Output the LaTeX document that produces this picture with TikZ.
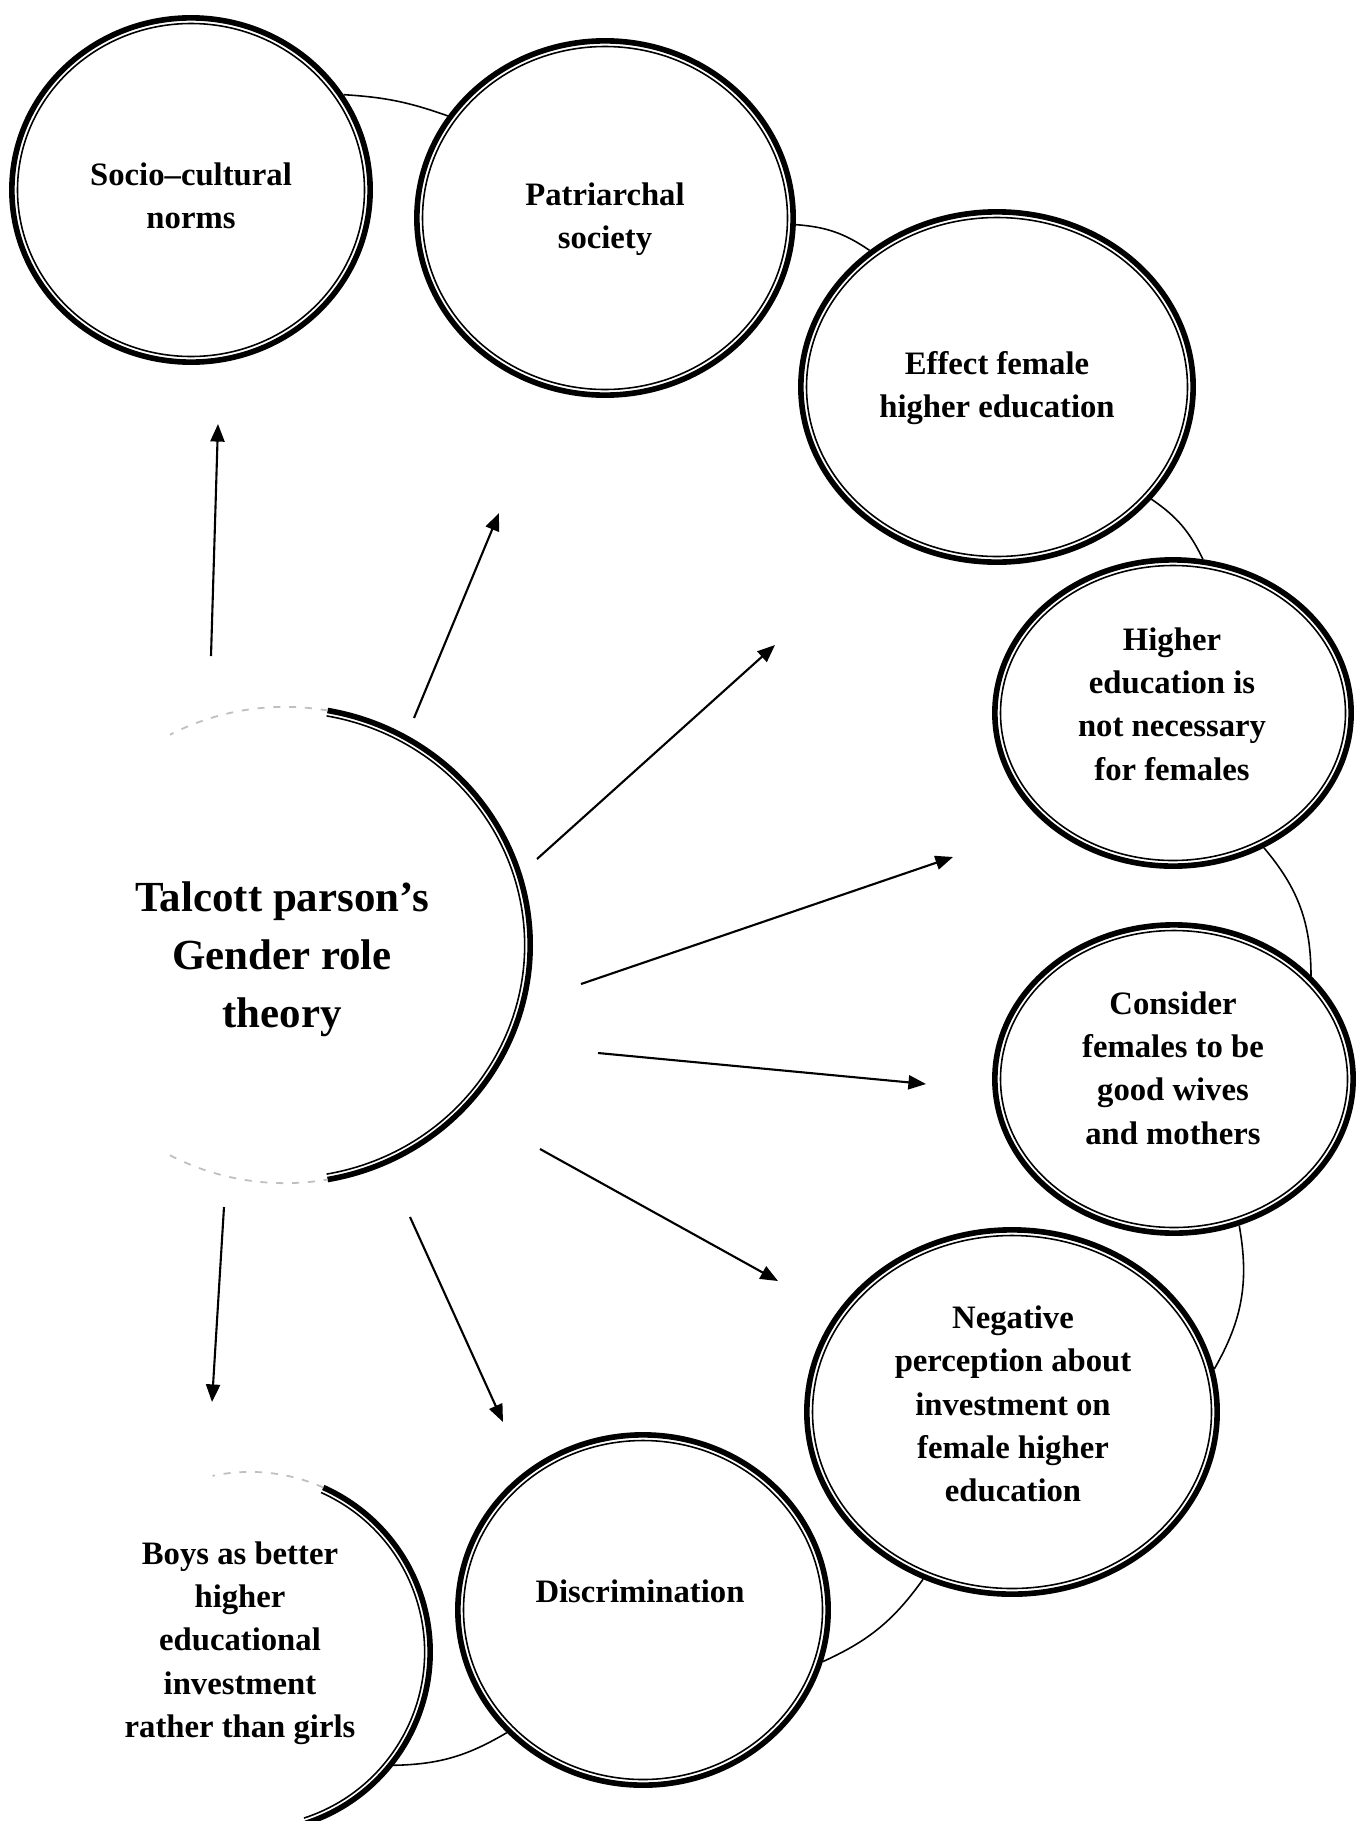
\documentclass[tikz,border=0pt]{standalone}
\usepackage{fontspec}
\setmainfont{Liberation Serif}
\usetikzlibrary{shapes.geometric,arrows.meta}
\newcommand\bub[5]{%
  \node[bubble, minimum width=#4*0.02cm, minimum height=#5*0.02cm] (#1) at (#2,#3) {};
  \draw[innerline] (#1.center) ellipse[x radius=#4*0.01cm-0.055cm, y radius=#5*0.01cm-0.055cm];
}
\begin{document}
\begin{tikzpicture}[x=0.01cm,y=-0.01cm,
  bubble/.style={ellipse, draw, line width=1.6pt, inner sep=0pt},
  innerline/.style={line width=0.45pt},
  outerline/.style={line width=1.6pt},
  lbl/.style={align=center, font=\fontsize{9.3}{12.3}\selectfont\bfseries},
  biglbl/.style={align=center, font=\fontsize{12.2}{16.5}\selectfont\bfseries},
  link/.style={line width=0.45pt},
  ray/.style={line width=0.6pt, -{Triangle[length=5pt,width=4pt]}},
  faint/.style={line width=0.5pt, black!25, dash pattern=on 2pt off 2.5pt}
]
\useasboundingbox[fill=white] (0,0) rectangle (1363,1821);

% full circles
\bub{c1}{191}{190}{179}{172}
\bub{c2}{605}{218}{188}{177}
\bub{c3}{997}{387}{196}{175}
\bub{c4}{1173}{713}{178}{153}
\bub{c5}{1174}{1079}{179}{154}
\bub{c6}{1012}{1412}{205}{182}
\bub{c7}{643}{1610}{185}{175}

% partial circle: Talcott
\coordinate (tc) at (285,945);
\draw[outerline] ([shift={(-80:2.45cm and 2.38cm)}]tc) arc[start angle=-80, end angle=80, x radius=2.45cm, y radius=2.38cm];
\draw[innerline] ([shift={(-80:2.395cm and 2.325cm)}]tc) arc[start angle=-80, end angle=80, x radius=2.395cm, y radius=2.325cm];
\draw[faint] ([shift={(80:2.45cm and 2.38cm)}]tc) arc[start angle=80, end angle=118, x radius=2.45cm, y radius=2.38cm];
\draw[faint] ([shift={(-118:2.45cm and 2.38cm)}]tc) arc[start angle=-118, end angle=-80, x radius=2.45cm, y radius=2.38cm];

% partial circle: Boys
\coordinate (bc) at (250,1652);
\draw[outerline] ([shift={(-72:1.80cm)}]bc) arc[start angle=-72, end angle=66, radius=1.80cm];
\draw[innerline] ([shift={(-72:1.745cm)}]bc) arc[start angle=-72, end angle=66, radius=1.745cm];
\draw[faint] ([shift={(66:1.80cm)}]bc) arc[start angle=66, end angle=102, radius=1.80cm];

% labels
\node[lbl] (t1) at (191,196) {Socio–cultural\\norms};
\node[lbl] (t2) at (605,219) {Patriarchal\\society};
\node[lbl] (t3) at (997,388) {Effect female\\higher education};
\node[lbl] (t4) at (1172,704) {Higher\\education is\\not necessary\\for females};
\node[lbl] (t5) at (1173,1068) {Consider\\females to be\\good wives\\and mothers};
\node[lbl] (t6) at (1013,1404) {Negative\\perception about\\investment on\\female higher\\education};
\node[lbl] (t7) at (640,1591) {Discrimination};
\node[lbl] (t8) at (240,1643) {Boys as better\\higher\\educational\\investment\\rather than girls};
\node[biglbl] (t) at (282,959) {Talcott parson’s\\Gender role\\theory};

% chain connectors
\coordinate (b78) at ([shift={(-39:1.80cm)}]bc);
\draw[link] (c1.32) to[bend left=8] (c2.147);
\draw[link] (c2.-2) to[bend left=15] (c3.133);
\draw[link] (c3.-36) to[bend left=15] (c4.79);
\draw[link] (c4.-56) to[bend left=20] (c5.37);
\draw[link] (c5.-66) to[bend left=20] (c6.12);
\draw[link] (c6.-118) to[bend left=15] (c7.-16);
\draw[link] (c7.-138) to[bend left=15] (b78);

% rays
\coordinate (a1s) at (211,656);  \coordinate (a1e) at (218,424);
\coordinate (a2s) at (414,718);  \coordinate (a2e) at (499,513);
\coordinate (a3s) at (537,859);  \coordinate (a3e) at (775,645);
\coordinate (a4s) at (581,984);  \coordinate (a4e) at (953,857);
\coordinate (a5s) at (598,1053); \coordinate (a5e) at (926,1084);
\coordinate (a6s) at (540,1149); \coordinate (a6e) at (778,1281);
\coordinate (a7s) at (410,1217); \coordinate (a7e) at (503,1422);
\coordinate (a8s) at (224,1207); \coordinate (a8e) at (212,1402);
\foreach \i in {1,...,8} \draw[ray] (a\i s) -- (a\i e);
\end{tikzpicture}
\end{document}
